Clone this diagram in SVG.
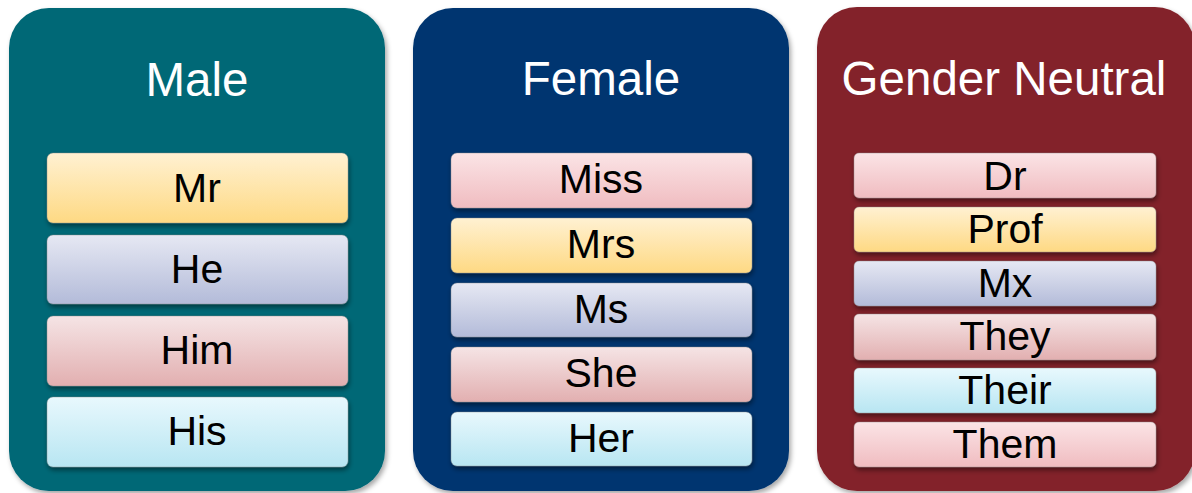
<svg xmlns="http://www.w3.org/2000/svg" width="1192" height="493" viewBox="0 0 1192 493">
<defs>
  <filter id="psh" x="-5%" y="-5%" width="115%" height="115%">
    <feDropShadow dx="2" dy="3" stdDeviation="2.5" flood-color="#000" flood-opacity="0.35"/>
  </filter>
  <filter id="bsh" x="-5%" y="-10%" width="115%" height="140%">
    <feDropShadow dx="1" dy="3" stdDeviation="2.5" flood-color="#000" flood-opacity="0.45"/>
  </filter>
  <linearGradient id="gY" x1="0" y1="0" x2="0" y2="1"><stop offset="0" stop-color="#fff1d2"/><stop offset="1" stop-color="#fed983"/></linearGradient>
  <linearGradient id="gL" x1="0" y1="0" x2="0" y2="1"><stop offset="0" stop-color="#e6e8f3"/><stop offset="1" stop-color="#b3bbd9"/></linearGradient>
  <linearGradient id="gR" x1="0" y1="0" x2="0" y2="1"><stop offset="0" stop-color="#f5e4e5"/><stop offset="1" stop-color="#e2afb0"/></linearGradient>
  <linearGradient id="gP" x1="0" y1="0" x2="0" y2="1"><stop offset="0" stop-color="#fbe4e6"/><stop offset="1" stop-color="#f0bcc0"/></linearGradient>
  <linearGradient id="gC" x1="0" y1="0" x2="0" y2="1"><stop offset="0" stop-color="#e8f8fd"/><stop offset="1" stop-color="#b8e6f2"/></linearGradient>
</defs>
<style>
  .panel { filter: url(#psh); }
  .title { font-family: "Liberation Sans", Arial, sans-serif; font-size: 47.5px; fill: #ffffff; text-anchor: middle; }
  .box { filter: url(#bsh); stroke: #8a8a8a; stroke-opacity: 0.5; stroke-width: 0.8; }
  .lbl { font-family: "Liberation Sans", Arial, sans-serif; font-size: 41px; fill: #000000; text-anchor: middle; }
</style>

<g id="panel-male">
  <rect class="panel" x="9" y="8" width="376" height="483" rx="40" fill="#006776"/>
  <text class="title" x="197" y="96">Male</text>
</g>
<g id="panel-female">
  <rect class="panel" x="413" y="8" width="376" height="483" rx="40" fill="#003670"/>
  <text class="title" x="601" y="95">Female</text>
</g>
<g id="panel-neutral">
  <rect class="panel" x="817" y="7" width="378" height="484" rx="40" fill="#83232b"/>
  <text class="title" x="1004" y="95">Gender Neutral</text>
</g>

<g id="male-mr"><rect class="box" x="47" y="153" width="301" height="70" rx="6" fill="url(#gY)"/><text class="lbl" x="197" y="202">Mr</text></g>
<g id="male-he"><rect class="box" x="47" y="235" width="301" height="69" rx="6" fill="url(#gL)"/><text class="lbl" x="197" y="283">He</text></g>
<g id="male-him"><rect class="box" x="47" y="316" width="301" height="70" rx="6" fill="url(#gR)"/><text class="lbl" x="197" y="364">Him</text></g>
<g id="male-his"><rect class="box" x="47" y="397" width="301" height="70" rx="6" fill="url(#gC)"/><text class="lbl" x="197" y="445">His</text></g>

<g id="female-miss"><rect class="box" x="451" y="153" width="301" height="55" rx="6" fill="url(#gP)"/><text class="lbl" x="601" y="193">Miss</text></g>
<g id="female-mrs"><rect class="box" x="451" y="218" width="301" height="55" rx="6" fill="url(#gY)"/><text class="lbl" x="601" y="258">Mrs</text></g>
<g id="female-ms"><rect class="box" x="451" y="283" width="301" height="54" rx="6" fill="url(#gL)"/><text class="lbl" x="601" y="323">Ms</text></g>
<g id="female-she"><rect class="box" x="451" y="347" width="301" height="55" rx="6" fill="url(#gR)"/><text class="lbl" x="601" y="387">She</text></g>
<g id="female-her"><rect class="box" x="451" y="412" width="301" height="54" rx="6" fill="url(#gC)"/><text class="lbl" x="601" y="452">Her</text></g>

<g id="neutral-dr"><rect class="box" x="854" y="153" width="302" height="45" rx="5" fill="url(#gP)"/><text class="lbl" x="1005" y="190">Dr</text></g>
<g id="neutral-prof"><rect class="box" x="854" y="207" width="302" height="45" rx="5" fill="url(#gY)"/><text class="lbl" x="1005" y="243">Prof</text></g>
<g id="neutral-mx"><rect class="box" x="854" y="261" width="302" height="45" rx="5" fill="url(#gL)"/><text class="lbl" x="1005" y="297">Mx</text></g>
<g id="neutral-they"><rect class="box" x="854" y="314" width="302" height="46" rx="5" fill="url(#gR)"/><text class="lbl" x="1005" y="350">They</text></g>
<g id="neutral-their"><rect class="box" x="854" y="368" width="302" height="45" rx="5" fill="url(#gC)"/><text class="lbl" x="1005" y="404">Their</text></g>
<g id="neutral-them"><rect class="box" x="854" y="422" width="302" height="45" rx="5" fill="url(#gP)"/><text class="lbl" x="1005" y="458">Them</text></g>

<g id="connectors"></g>
</svg>
